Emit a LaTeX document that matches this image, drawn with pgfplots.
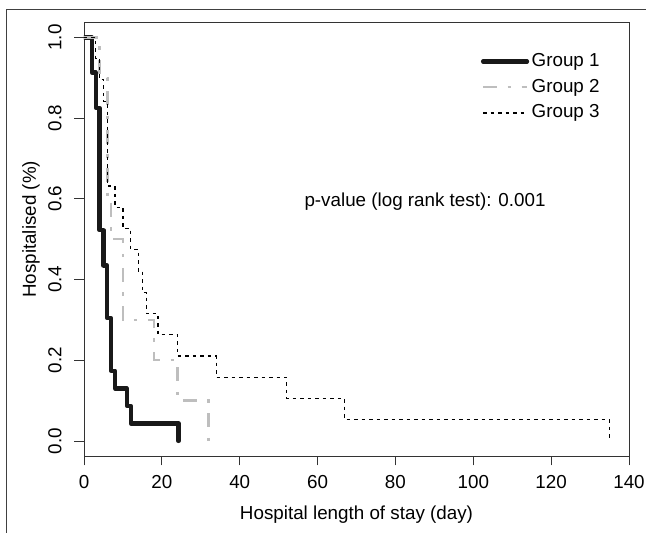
\documentclass[border=0pt]{standalone}
\usepackage{fontspec}
\setmainfont{Liberation Sans}
\usepackage{pgfplots}
\pgfplotsset{compat=1.18}

\definecolor{grp2}{HTML}{BEBEBE}

\begin{document}
\fontsize{18.8}{22.5}\selectfont
\begin{tikzpicture}
% fixed page: 646 x 533, axis box lower-left at (84,77) from page corner
\path[use as bounding box] (-84pt,-77pt) rectangle (562pt,456pt);
\draw[black!75, line width=1pt] (-77.3pt,-77pt) -- (-77.3pt,446.7pt) -- (562pt,446.7pt);
\begin{axis}[
  at={(0pt,0pt)}, anchor=south west,
  scale only axis, width=545pt, height=433.6pt,
  xmin=0, xmax=140, ymin=-0.0372, ymax=1.0372,
  xtick={0,20,...,140}, ytick={0,0.2,0.4,0.6,0.8,1.0},
  axis line style={black!80, line width=0.9pt},
  tick style={black!80, line width=0.9pt},
  tick align=outside, major tick length=9.5pt,
  xtick pos=bottom, ytick pos=left,
  /pgf/number format/assume math mode=true,
  yticklabel style={/pgf/number format/.cd, fixed, fixed zerofill, precision=1, /tikz/.cd,
    rotate=90, anchor=south, inner sep=0pt, yshift=12.8pt},
  xticklabel style={anchor=north, inner sep=0pt, yshift=-9.5pt},
  xlabel={Hospital length of stay (day)},
  ylabel={Hospitalised (\%)},
  xlabel style={at={(axis description cs:0.5,-0.1361)}, anchor=center},
  ylabel style={at={(axis description cs:-0.0972,0.5226)}, anchor=center},
  legend style={draw=none, fill=none, at={(0.7284,0.930)}, anchor=north west,
    inner sep=0pt, outer sep=0pt, row sep=8.25pt,
    nodes={inner sep=0pt, text height=13.5pt, text depth=4pt},
    /tikz/every odd column/.append style={column sep=2.5pt}},
  legend cell align=left,
  legend image code/.code={\draw[#1] (0pt,0pt) -- (44pt,0pt);},
]
\addplot[const plot, black!90, line width=4.2pt, line cap=round, line join=round]
  coordinates {(0,1)(2,0.913)(3,0.826)(4,0.522)(5,0.435)(6,0.304)(7,0.174)(8,0.130)(11,0.087)(12,0.0435)(24.3,0)};
\addlegendentry{Group 1}
\addplot[const plot, grp2, line width=2.4pt, dash pattern=on 14pt off 10.5pt on 3.5pt off 10.5pt]
  coordinates {(0,1)(4,0.9)(6,0.6)(7,0.5)(10,0.3)(18,0.2)(24,0.1)(32,0)};
\addlegendentry{Group 2}
\addplot[const plot, black, line width=1.3pt, dash pattern=on 3.5pt off 4pt]
  coordinates {(0,1)(3,0.947)(4,0.895)(5,0.842)(6,0.632)(8,0.579)(10,0.526)(12,0.474)(14,0.421)(15,0.368)(16,0.316)(19,0.263)(24,0.2105)(34,0.158)(52,0.105)(67,0.0526)(135,0)};
\addlegendentry{Group 3}
\node[anchor=base west, inner sep=0pt] at (axis cs:56.6,0.582) {p-value (log rank test): 0.001};
\end{axis}
\end{tikzpicture}
\end{document}
